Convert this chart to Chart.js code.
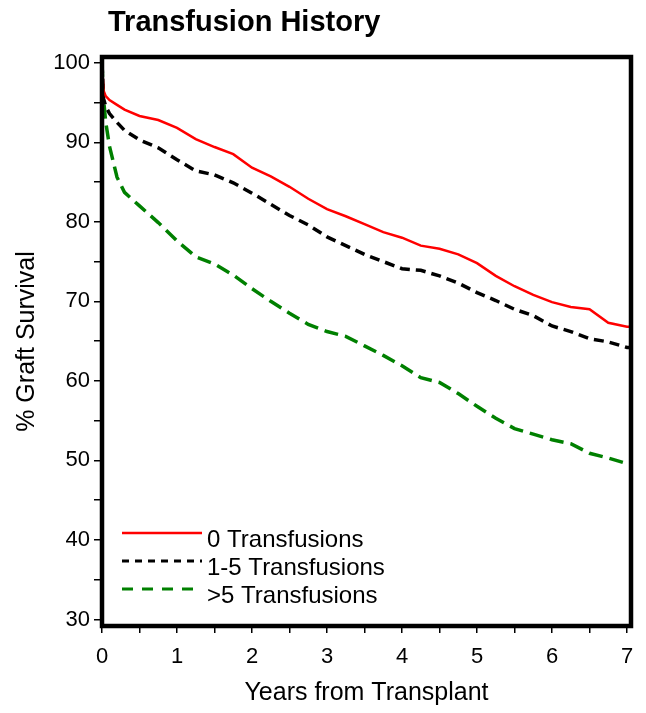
<!DOCTYPE html>
<html>
<head>
<meta charset="utf-8">
<script src="https://cdn.jsdelivr.net/npm/chart.js@4"></script>
<style>
  html, body { margin: 0; padding: 0; background: #fff; }
  #wrap { width: 646px; height: 713px; position: relative; }
</style>
</head>
<body>
<div id="wrap"><canvas id="surv"></canvas></div>
<script>
// years from transplant (shared x values)
const years = [0, 0.02, 0.05, 0.1, 0.2, 0.3, 0.5, 0.75, 1, 1.25, 1.5, 1.75, 2, 2.25, 2.5, 2.75,
  3, 3.25, 3.5, 3.75, 4, 4.25, 4.5, 4.75, 5, 5.25, 5.5, 5.75, 6, 6.25, 6.5, 6.75, 7, 7.05];

// % graft survival per group
const noTransfusions = [100, 96.5, 95.8, 95.3, 94.7, 94.1, 93.3, 92.8, 91.8, 90.4, 89.4, 88.5, 86.8, 85.7, 84.4, 82.9,
  81.6, 80.7, 79.7, 78.7, 78.0, 77.0, 76.6, 75.9, 74.8, 73.2, 71.9, 70.8, 69.9, 69.3, 69.0, 67.3, 66.8, 66.8];
const oneToFive = [100, 95.5, 94.5, 93.6, 92.5, 91.5, 90.3, 89.3, 87.8, 86.4, 85.9, 84.9, 83.6, 82.2, 80.8, 79.6,
  78.1, 77.0, 75.9, 75.0, 74.1, 73.9, 73.2, 72.3, 71.1, 70.1, 69.0, 68.2, 66.9, 66.2, 65.3, 64.9, 64.2, 64.2];
const overFive = [100, 95.5, 92.5, 89.5, 85.6, 83.7, 82.0, 79.9, 77.6, 75.6, 74.7, 73.3, 71.6, 70.0, 68.5, 67.1,
  66.2, 65.6, 64.4, 63.2, 61.9, 60.4, 59.8, 58.4, 56.8, 55.3, 54.0, 53.3, 52.6, 52.1, 50.9, 50.3, 49.6, 49.5];

const seriesNames = ['0 Transfusions', '1-5 Transfusions', '>5 Transfusions'];
const yTicks = [30, 35, 40, 45, 50, 55, 60, 65, 70, 75, 80, 85, 90, 95, 100];
const xTicks = [0, 0.5, 1, 1.5, 2, 2.5, 3, 3.5, 4, 4.5, 5, 5.5, 6, 6.5, 7];

const FONT = 'Liberation Sans, Arial, sans-serif';
const pts = vals => years.map((x, i) => ({ x: x, y: vals[i] }));

// frame, title and in-plot legend
const decor = {
    id: 'decor',
    afterDatasetsDraw(chart) {
        const { ctx, chartArea: a } = chart;
        ctx.save();
        ctx.strokeStyle = '#000';
        ctx.lineWidth = 4.5;
        ctx.strokeRect(a.left, a.top, a.right - a.left, a.bottom - a.top);

        ctx.fillStyle = '#000';
        ctx.font = 'bold 29px ' + FONT;
        ctx.textBaseline = 'alphabetic';
        ctx.fillText('Transfusion History', 108, 31);

        ctx.font = '24px ' + FONT;
        chart.data.datasets.forEach((ds, i) => {
            const y = 533 + i * 28;
            ctx.beginPath();
            ctx.strokeStyle = ds.borderColor;
            ctx.lineWidth = ds.legendWidth;
            ctx.setLineDash(ds.legendDash);
            ctx.moveTo(a.left + 20, y);
            ctx.lineTo(a.left + 100, y);
            ctx.stroke();
            ctx.setLineDash([]);
            ctx.fillText(ds.label, a.left + 105, y + 14);
        });
        ctx.restore();
    }
};

new Chart(document.getElementById('surv'), {
    type: 'line',
    data: {
        datasets: [
            { label: seriesNames[0], data: pts(noTransfusions), borderColor: '#ff0000', borderWidth: 2.5,
              legendWidth: 2.5, legendDash: [] },
            { label: seriesNames[1], data: pts(oneToFive), borderColor: '#000000', borderWidth: 3.5, borderDash: [10, 6],
              legendWidth: 3, legendDash: [7, 6] },
            { label: seriesNames[2], data: pts(overFive), borderColor: '#008000', borderWidth: 3.5, borderDash: [14, 7],
              legendWidth: 3, legendDash: [11, 9] }
        ]
    },
    options: {
        responsive: true,
        maintainAspectRatio: false,
        animation: false,
        layout: { padding: { left: 0, top: 57, right: 15, bottom: 0 } },
        elements: { point: { radius: 0 }, line: { tension: 0 } },
        plugins: { legend: { display: false }, tooltip: { enabled: false }, title: { display: false } },
        scales: {
            x: {
                type: 'linear', min: 0, max: 7.053,
                afterFit: s => { s.height = 87; },
                afterBuildTicks: s => { s.ticks = xTicks.map(v => ({ value: v })); },
                border: { display: false },
                grid: { drawOnChartArea: false, color: '#000', lineWidth: 1.5, tickLength: 7 },
                ticks: {
                    color: '#000', font: { family: FONT, size: 22 }, padding: 11, maxRotation: 0,
                    autoSkip: false,
                    callback: v => Number.isInteger(v) ? String(v) : ''
                },
                title: { display: true, text: 'Years from Transplant', color: '#000',
                    font: { family: FONT, size: 25 }, padding: { top: 0, bottom: 5 } }
            },
            y: {
                min: 29.18, max: 100.72,
                afterFit: s => { s.width = 102; },
                afterBuildTicks: s => { s.ticks = yTicks.map(v => ({ value: v })); },
                border: { display: false },
                grid: { drawOnChartArea: false, color: '#000', lineWidth: 1.5, tickLength: 8 },
                ticks: {
                    color: '#000', font: { family: FONT, size: 22 }, padding: 4, autoSkip: false,
                    callback: v => v % 10 === 0 ? String(v) : ''
                },
                title: { display: true, text: '% Graft Survival', color: '#000',
                    font: { family: FONT, size: 25 }, padding: { top: 12, bottom: 0 } }
            }
        }
    },
    plugins: [decor]
});
</script>
</body>
</html>
